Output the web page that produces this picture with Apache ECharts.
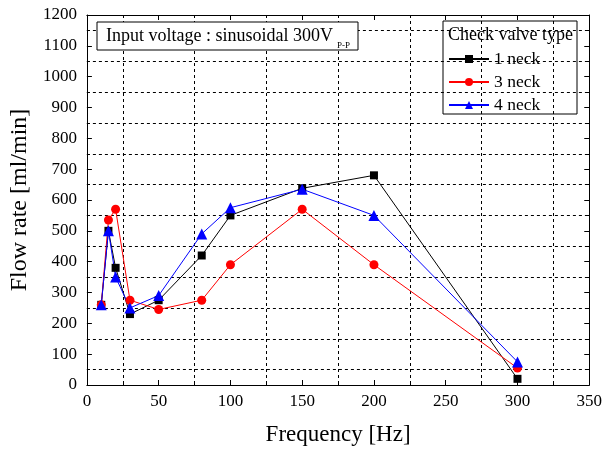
<!DOCTYPE html>
<html><head><meta charset="utf-8">
<script src="https://cdn.jsdelivr.net/npm/echarts@6/dist/echarts.min.js"></script>
<style>html,body{margin:0;padding:0;background:#fff}#c{width:605px;height:452px}</style>
</head><body><div id="c"></div>
<script>
const freq = [10, 15, 20, 30, 50, 80, 100, 150, 200, 300];
const neck1 = [260, 500, 380, 230, 275, 420, 550, 638, 680, 20];
const neck3 = [260, 535, 570, 275, 245, 275, 390, 570, 390, 55];
const neck4 = [260, 500, 350, 250, 290, 490, 575, 635, 550, 75];
const seriesNames = ['1 neck', '3 neck', '4 neck'];

const F = 'Liberation Serif, Times New Roman, serif';
const chart = echarts.init(document.getElementById('c'));
const pair = (ys) => freq.map((f, i) => [f, ys[i]]);
const axisCommon = {
  axisLine: {show: true, onZero: false, lineStyle: {color: '#000', width: 1}},
  axisTick: {show: true, inside: true, length: 5, lineStyle: {color: '#000'}},
  minorTick: {show: true, splitNumber: 2, length: 3, lineStyle: {color: '#000'}},
  splitLine: {show: false}
};
function mkSeries(name, data, color, symbol, size) {
  return {name, type: 'line', data: pair(data), symbol, symbolSize: size,
    lineStyle: {color, width: 1}, itemStyle: {color}, z: 3, animation: false};
}
chart.setOption({
  animation: false,
  grid: {left: 85, right: 12, top: 15, bottom: 67},
  xAxis: [
    Object.assign({type: 'value', min: 0, max: 350, interval: 50, position: 'bottom',
      axisLabel: {color: '#000', fontFamily: F, fontSize: 17, margin: 8, formatter: v => String(v)},
      minorSplitLine: {show: true, lineStyle: {color: '#000', type: [3, 3], width: 1}},
      name: 'Frequency [Hz]', nameLocation: 'middle', nameGap: 38,
      nameTextStyle: {color: '#000', fontFamily: F, fontSize: 23}}, axisCommon),
    Object.assign({type: 'value', min: 0, max: 350, interval: 50, position: 'top',
      axisLabel: {show: false}}, axisCommon)
  ],
  yAxis: [
    Object.assign({type: 'value', min: 0, max: 1200, interval: 100, position: 'left',
      axisLabel: {color: '#000', fontFamily: F, fontSize: 17, margin: 10, formatter: v => String(v)},
      minorSplitLine: {show: true, lineStyle: {color: '#000', type: [3, 3], width: 1}},
      name: 'Flow rate [ml/min]', nameLocation: 'middle', nameGap: 54, nameRotate: 90,
      nameTextStyle: {color: '#000', fontFamily: F, fontSize: 24}}, axisCommon),
    Object.assign({type: 'value', min: 0, max: 1200, interval: 100, position: 'right',
      axisLabel: {show: false}}, axisCommon)
  ],
  legend: {
    data: seriesNames, orient: 'vertical', left: 443, top: 50, padding: [0, 5],
    itemWidth: 40, itemHeight: 10, itemGap: 5,
    textStyle: {color: '#000', fontFamily: F, fontSize: 17.5}
  },
  graphic: [
    {type: 'rect', shape: {x: 97, y: 22, width: 261, height: 28},
      style: {fill: '#fff', stroke: '#000', lineWidth: 1}, z: 10},
    {type: 'text', x: 106, y: 36, style: {text: 'Input voltage : sinusoidal 300V', fill: '#000',
      font: '18px ' + F, verticalAlign: 'middle'}, z: 11},
    {type: 'text', x: 337, y: 46, style: {text: 'P-P', fill: '#000',
      font: '9px ' + F, verticalAlign: 'middle'}, z: 11},
    {type: 'rect', shape: {x: 443, y: 21, width: 134, height: 93},
      style: {fill: '#fff', stroke: '#000', lineWidth: 1}, z: 0},
    {type: 'text', x: 448, y: 35, style: {text: 'Check valve type', fill: '#000',
      font: '18px ' + F, verticalAlign: 'middle'}, z: 11}
  ],
  series: [
    mkSeries(seriesNames[0], neck1, '#000000', 'rect', 8),
    mkSeries(seriesNames[1], neck3, '#ff0000', 'circle', 9),
    mkSeries(seriesNames[2], neck4, '#0000ff', 'triangle', 11)
  ]
});
</script></body></html>
